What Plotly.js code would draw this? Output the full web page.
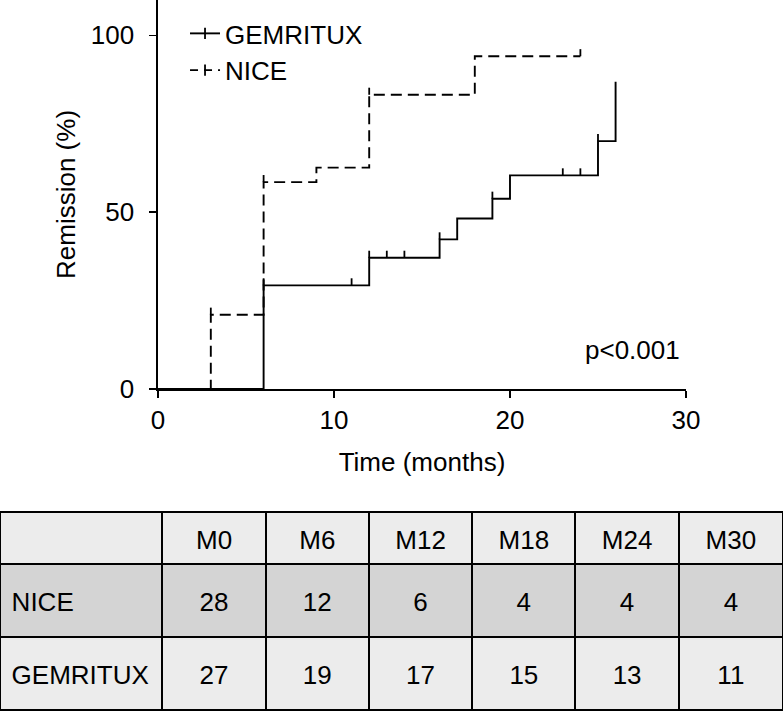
<!DOCTYPE html>
<html>
<head>
<meta charset="utf-8">
<script src="https://cdn.plot.ly/plotly-3.0.1.min.js"></script>
<style>html,body{margin:0;padding:0;background:#fff;}#chart{width:783px;height:712px;}</style>
</head>
<body>
<div id="chart"></div>
<script>
// Step curves (cumulative remission, %)
var niceTime = [0, 3, 6, 9, 12, 18, 24];
var niceRemission = [0, 21.0, 58.5, 62.6, 83.2, 94.1, 94.1];
var gemTime = [0, 6, 12, 16, 17, 19, 20, 25, 26];
var gemRemission = [0, 29.3, 37.1, 42.3, 48.2, 53.8, 60.4, 70.1, 86.9];
// Censoring marks
var niceCensorTime = [3, 6, 12, 24];
var niceCensorY = [21.0, 58.5, 83.2, 94.1];
var gemCensorTime = [6, 11, 12, 13, 14, 16, 19, 23, 24, 25];
var gemCensorY = [29.3, 29.3, 37.1, 37.1, 37.1, 42.3, 53.8, 60.4, 60.4, 70.1];
// Number-at-risk table
var tableTimepoints = ['M0', 'M6', 'M12', 'M18', 'M24', 'M30'];
var tableGroups = ['NICE', 'GEMRITUX'];
var niceAtRisk = [28, 12, 6, 4, 4, 4];
var gemAtRisk = [27, 19, 17, 15, 13, 11];

var FONT = 'Liberation Sans, Arial, Helvetica, sans-serif';
var FS = 26;
var TICK_H = 2; // censor tick height in % units

// push table text down to the vertical middle of each cell (blank first line)
function cellText(v, lead) {
  return '\u00a0<br>' + (lead || '') + '<span style="font-size:' + FS + 'px">' + v + '</span>';
}

function censorTrace(x, y) {
  return {
    type: 'scatter', mode: 'markers', x: x, y: y, showlegend: false, hoverinfo: 'skip',
    marker: {size: 1, color: 'rgba(0,0,0,0)'},
    error_y: {type: 'data', symmetric: false, array: y.map(function(){return TICK_H;}),
              arrayminus: y.map(function(){return 0;}), width: 0, thickness: 1.8, color: '#000'}
  };
}

var tableCols = [tableGroups.map(function(g){return cellText(g, '\u2009');})].concat(
  niceAtRisk.map(function(v, i){return [cellText(v), cellText(gemAtRisk[i])];}));

var traces = [
  {type: 'scatter', mode: 'lines', x: niceTime, y: niceRemission, name: 'NICE', showlegend: false,
   line: {shape: 'hv', color: '#000', width: 1.9, dash: '11px,6px'}},
  {type: 'scatter', mode: 'lines', x: gemTime, y: gemRemission, name: 'GEMRITUX', showlegend: false,
   line: {shape: 'hv', color: '#000', width: 1.9}},
  censorTrace(niceCensorTime, niceCensorY),
  censorTrace(gemCensorTime, gemCensorY),
  // legend entries
  {type: 'scatter', mode: 'lines+markers', x: [null], y: [null], name: 'GEMRITUX', legendgroup: 'a',
   line: {color: '#000', width: 1.9}, marker: {symbol: 'line-ns', size: 8, line: {width: 1.8, color: '#000'}}},
  {type: 'scatter', mode: 'lines+markers', x: [null], y: [null], name: 'NICE', legendgroup: 'b',
   line: {color: '#000', width: 1.9, dash: '8px,6px'}, marker: {symbol: 'line-ns', size: 8, line: {width: 1.8, color: '#000'}}},
  // table
  {type: 'table', domain: {x: [0, 1], y: [0, 0.2813]},
   columnwidth: [162, 103, 103, 103, 103, 103, 104],
   header: {values: [''].concat(tableTimepoints).map(function(v){return cellText(v);}), height: 52,
            align: ['left', 'center', 'center', 'center', 'center', 'center', 'center'],
            fill: {color: '#ececec'}, line: {color: '#000', width: 2},
            font: {family: FONT, size: 13, color: '#000'}},
   cells: {values: tableCols, height: 73,
           align: ['left', 'center', 'center', 'center', 'center', 'center', 'center'],
           fill: {color: [['#d4d4d4', '#ececec']]}, line: {color: '#000', width: 2},
           font: {family: FONT, size: 18, color: '#000'}}}
];

var layout = {
  width: 783, height: 712,
  margin: {l: 0, r: 0, t: 0, b: 0},
  paper_bgcolor: '#fff', plot_bgcolor: '#fff',
  font: {family: FONT, size: FS, color: '#000'},
  showlegend: true,
  legend: {x: 0.2363, y: 0.986, xanchor: 'left', yanchor: 'top', bgcolor: 'rgba(0,0,0,0)',
           traceorder: 'grouped', tracegroupgap: 0, font: {family: FONT, size: FS}},
  xaxis: {domain: [0.2018, 0.8761], range: [0, 30], tickvals: [0, 10, 20, 30],
          showgrid: false, zeroline: false, showline: true, linecolor: '#000', linewidth: 1.6,
          ticks: 'outside', ticklen: 7, tickwidth: 1.6, tickcolor: '#000',
          anchor: 'y', title: {text: 'Time (months)', standoff: 19, font: {size: FS}},
          tickfont: {size: FS}},
  yaxis: {domain: [0.4537, 1], range: [0, 110], tickvals: [0, 50, 100],
          showgrid: false, zeroline: false, showline: true, linecolor: '#000', linewidth: 1.6,
          ticks: 'outside', ticklen: 7, tickwidth: 1.6, tickcolor: '#000', ticklabelstandoff: 10,
          anchor: 'x', title: {text: 'Remission (%)', standoff: 8, font: {size: FS}},
          tickfont: {size: FS}},
  annotations: [{xref: 'x', yref: 'y', x: 29.8, y: 11.1, xanchor: 'right', yanchor: 'middle',
                 text: 'p<0.001', showarrow: false, font: {size: FS}}]
};

Plotly.newPlot('chart', traces, layout, {displayModeBar: false, staticPlot: true});
</script>
</body>
</html>
